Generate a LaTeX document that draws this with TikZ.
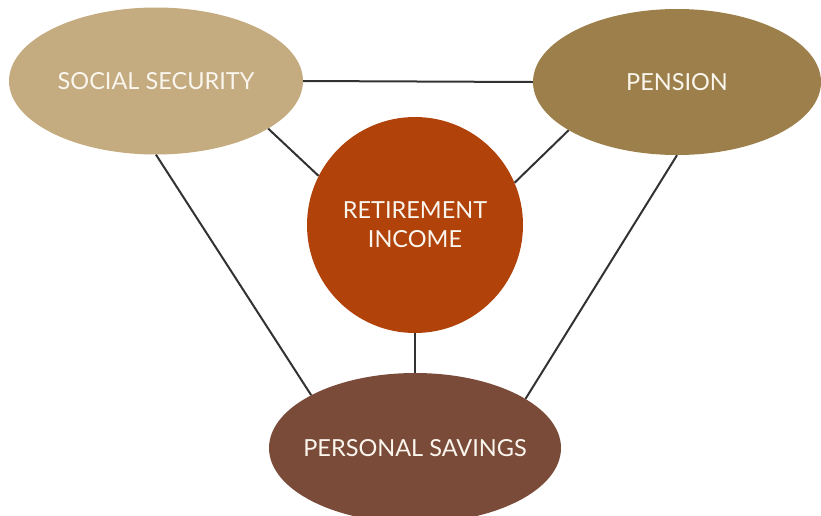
\documentclass[tikz,border=0pt]{standalone}
\usepackage{fontspec}
\setmainfont{Lato}
\usetikzlibrary{shapes.geometric}
\definecolor{socialtan}{RGB}{196,171,128}
\definecolor{pensionbrown}{RGB}{156,127,74}
\definecolor{incomerust}{RGB}{176,66,10}
\definecolor{savingsbrown}{RGB}{123,75,57}
\definecolor{linkgrey}{RGB}{50,50,50}
\definecolor{labelwhite}{RGB}{250,246,238}

\begin{document}
\begin{tikzpicture}[x=1pt, y=-1pt,
    source/.style={ellipse, inner sep=0pt, text=labelwhite, font=\fontsize{23.5}{28}\selectfont},
    link/.style={linkgrey, line width=2pt}]
            \useasboundingbox (0,0) rectangle (821,515);
            \clip (0,0) rectangle (821,515);

            % Fuentes de ingreso
            \node[source, fill=socialtan, minimum width=294pt, minimum height=147pt] (ss) at (156,81) {\makebox[0pt]{SOCIAL SECURITY}};
            \node[source, fill=pensionbrown, minimum width=288pt, minimum height=146pt] (pen) at (677,82) {PENSION};
            \node[source, fill=savingsbrown, minimum width=292pt, minimum height=150pt] (ps) at (415,448) {\makebox[0pt]{PERSONAL SAVINGS}};

            % Centro
            \node[circle, fill=incomerust, minimum size=216pt, inner sep=0pt, text=labelwhite,
                  align=center, font=\fontsize{23.5}{29}\selectfont] (ri) at (415,225) {RETIREMENT\\INCOME};

            % Conexiones
            \draw[link] (ss.east) -- (pen.west);
            \draw[link] (ss.-23) -- (ri.153);
            \draw[link] (pen.-156) -- (ri.23);
            \draw[link] (ss.south) -- (ps.153);
            \draw[link] (pen.south) -- (ps.24);
            \draw[link] (ri.south) -- (ps.north);
        \end{tikzpicture}
\end{document}
